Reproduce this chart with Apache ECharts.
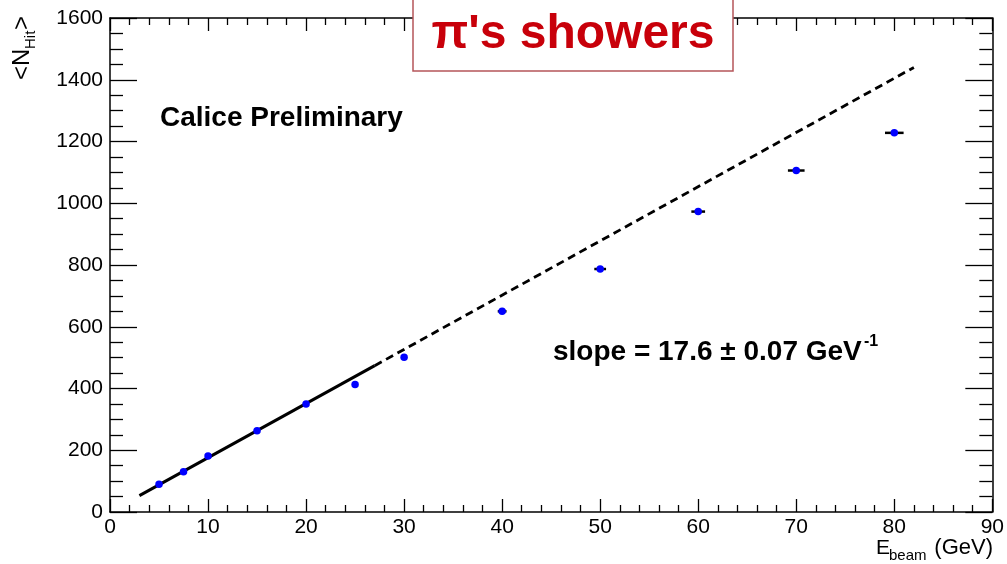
<!DOCTYPE html>
<html>
<head>
<meta charset="utf-8">
<script src="https://cdn.jsdelivr.net/npm/echarts@6/dist/echarts.min.js"></script>
<style>html,body{margin:0;padding:0;background:#fff}#c{width:1007px;height:564px}</style>
</head>
<body>
<div id="c"></div>
<script>
// ---- data ----
var beamEnergy = [5, 7.5, 10, 15, 20, 25, 30, 40, 50, 60, 70, 80];
var meanHits   = [90, 130, 181, 263, 350, 413, 501, 650, 787, 973, 1106, 1228];
var energyErr  = [0, 0, 0, 0, 0, 0, 0, 0.45, 0.6, 0.7, 0.85, 0.95];
var fitSolidX  = [3, 27];
var fitSolidY  = [53, 474];
var fitDashX   = [27, 82];
var fitDashY   = [474, 1440];
var xTicks = {min: 0, max: 90, step: 10};
var yTicks = {min: 0, max: 1600, step: 200};

var FONT = "'Liberation Sans', Arial, Helvetica, sans-serif";

var points = beamEnergy.map(function (e, i) { return [e, meanHits[i]]; });
var errs = beamEnergy.map(function (e, i) { return [e, meanHits[i], energyErr[i]]; });
var fitSolid = fitSolidX.map(function (x, i) { return [x, fitSolidY[i]]; });
var fitDash = fitDashX.map(function (x, i) { return [x, fitDashY[i]]; });

var axisLine = {show: true, onZero: false, lineStyle: {color: '#000', width: 1.5}};
function plain(v) { return String(v); }
function xAx(pos, showLabel) {
  return {
    type: 'value', position: pos, min: xTicks.min, max: xTicks.max, interval: xTicks.step,
    axisLine: axisLine, splitLine: {show: false},
    axisTick: {show: true, inside: true, length: 13, lineStyle: {color: '#000', width: 1.3}},
    minorTick: {show: true, splitNumber: 5, length: 7, lineStyle: {color: '#000', width: 1.3}},
    axisLabel: {show: showLabel, color: '#000', fontSize: 21, fontFamily: FONT, margin: 5, formatter: plain}
  };
}
function yAx(pos, showLabel) {
  return {
    type: 'value', position: pos, min: yTicks.min, max: yTicks.max, interval: yTicks.step,
    axisLine: axisLine, splitLine: {show: false},
    axisTick: {show: true, inside: true, length: 27, lineStyle: {color: '#000', width: 1.3}},
    minorTick: {show: true, splitNumber: 4, length: 13, lineStyle: {color: '#000', width: 1.3}},
    axisLabel: {show: showLabel, color: '#000', fontSize: 21, fontFamily: FONT, margin: 7, formatter: plain}
  };
}

var chart = echarts.init(document.getElementById('c'), null, {renderer: 'canvas'});
chart.setOption({
  animation: false,
  backgroundColor: '#fff',
  grid: {left: 110, right: 14, top: 18, bottom: 52, containLabel: false},
  xAxis: [xAx('bottom', true), xAx('top', false)],
  yAxis: [yAx('left', true), yAx('right', false)],
  series: [
    {
      type: 'line', data: fitSolid, symbol: 'none', silent: true,
      lineStyle: {color: '#000', width: 3}, z: 2
    },
    {
      type: 'line', data: fitDash, symbol: 'none', silent: true,
      lineStyle: {color: '#000', width: 2.8, type: [8, 5]}, z: 2
    },
    {
      type: 'custom', data: errs, z: 3,
      renderItem: function (params, api) {
        var x = api.value(0), y = api.value(1), e = api.value(2);
        if (!e) return null;
        var a = api.coord([x - e, y]), b = api.coord([x + e, y]);
        return {type: 'line', shape: {x1: a[0], y1: a[1], x2: b[0], y2: b[1]},
                style: {stroke: '#000', lineWidth: 2.5}};
      }
    },
    {
      type: 'scatter', data: points, symbol: 'circle', symbolSize: 7.5,
      itemStyle: {color: '#0000ff', opacity: 1}, z: 4
    }
  ],
  graphic: [
    {type: 'rect', z: 100, shape: {x: 413, y: -5, width: 320, height: 76},
     style: {fill: '#fff', stroke: '#b5555a', lineWidth: 1.5}},
    {type: 'text', z: 101, x: 573, y: 35,
     style: {text: "\u03c0's showers", fill: '#c8000a', fontSize: 48, fontWeight: 'bold',
             fontFamily: FONT, align: 'center', verticalAlign: 'middle'}},
    {type: 'text', z: 101, x: 160, y: 118,
     style: {text: 'Calice Preliminary', fill: '#000', fontSize: 28, fontWeight: 'bold',
             fontFamily: FONT, align: 'left', verticalAlign: 'middle'}},
    {type: 'text', z: 101, x: 553, y: 352,
     style: {text: 'slope = 17.6 \u00b1 0.07 GeV', fill: '#000', fontSize: 28, fontWeight: 'bold',
             fontFamily: FONT, align: 'left', verticalAlign: 'middle'}},
    {type: 'text', z: 101, x: 864, y: 342,
     style: {text: '-1', fill: '#000', fontSize: 16, fontWeight: 'bold',
             fontFamily: FONT, align: 'left', verticalAlign: 'middle'}},
    // x-axis title
    {type: 'text', z: 101, x: 876, y: 548,
     style: {text: 'E', fill: '#000', fontSize: 21, fontFamily: FONT, align: 'left', verticalAlign: 'middle'}},
    {type: 'text', z: 101, x: 889, y: 556,
     style: {text: 'beam', fill: '#000', fontSize: 15, fontFamily: FONT, align: 'left', verticalAlign: 'middle'}},
    {type: 'text', z: 101, x: 993, y: 548,
     style: {text: '(GeV)', fill: '#000', fontSize: 22, fontFamily: FONT, align: 'right', verticalAlign: 'middle'}},
    // y-axis title (rotated)
    {type: 'group', x: 22, y: 80, rotation: Math.PI / 2, z: 101, children: [
      {type: 'text', x: 0, y: 0,
       style: {text: '<N', fill: '#000', fontSize: 24, fontFamily: FONT, align: 'left', verticalAlign: 'middle'}},
      {type: 'text', x: 31, y: 9,
       style: {text: 'Hit', fill: '#000', fontSize: 15, fontFamily: FONT, align: 'left', verticalAlign: 'middle'}},
      {type: 'text', x: 50, y: 0,
       style: {text: '>', fill: '#000', fontSize: 24, fontFamily: FONT, align: 'left', verticalAlign: 'middle'}}
    ]}
  ]
});
</script>
</body>
</html>
